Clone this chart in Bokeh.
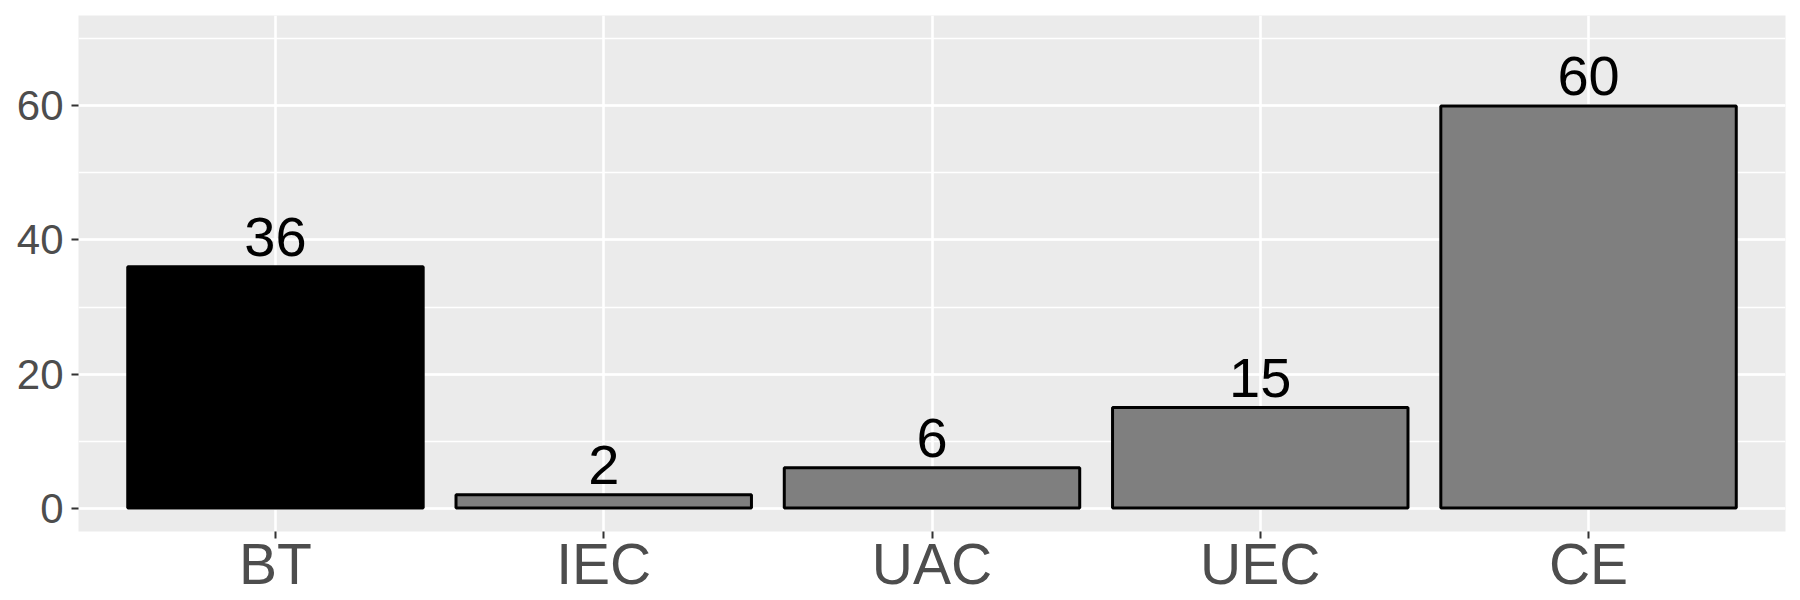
from bokeh.plotting import figure
from bokeh.models import ColumnDataSource, Range1d, FactorRange, SingleIntervalTicker
from bokeh.core.properties import value
from bokeh.embed import file_html
from bokeh.resources import INLINE

categories = ["BT", "IEC", "UAC", "UEC", "CE"]
counts = [36, 2, 6, 15, 60]
fills = ["#000000", "#7F7F7F", "#7F7F7F", "#7F7F7F", "#7F7F7F"]
labels = [str(v) for v in counts]

FONT = "Liberation Sans"

src = ColumnDataSource(dict(cat=categories, count=counts, fill=fills, label=labels))

p = figure(
    x_range=FactorRange(factors=categories, range_padding=0.1, range_padding_units="absolute"),
    y_range=Range1d(-3.5, 73.5),
    width=1800, height=600,
    output_backend="svg", toolbar_location=None,
    min_border_left=78, min_border_right=15, min_border_top=15, min_border_bottom=69,
)
p.background_fill_color = "#EBEBEB"
p.border_fill_color = "white"
p.outline_line_color = None

p.vbar(x="cat", top="count", bottom=0, width=0.9, source=src,
       fill_color="fill", line_color="black", line_width=3)

p.text(x="cat", y="count", text="label", source=src,
       text_font=value(FONT), text_font_size="56px", text_color="black",
       text_align="center", text_baseline="alphabetic", y_offset=-30)

p.yaxis.ticker = SingleIntervalTicker(interval=20, num_minor_ticks=2)
p.ygrid.grid_line_color = "white"
p.ygrid.grid_line_width = 2.6
p.ygrid.minor_grid_line_color = "white"
p.ygrid.minor_grid_line_width = 1.3
p.xgrid.grid_line_color = "white"
p.xgrid.grid_line_width = 2.6

for ax in (p.xaxis, p.yaxis):
    ax.axis_line_color = None
    ax.major_tick_line_color = "#333333"
    ax.major_tick_line_width = 2
    ax.major_tick_out = 7
    ax.major_tick_in = 0
    ax.minor_tick_line_color = None
    ax.major_label_text_color = "#4D4D4D"
    ax.major_label_text_font = FONT

p.yaxis.major_label_text_font_size = "42px"
p.yaxis.major_label_standoff = 8
p.xaxis.major_label_text_font_size = "57px"
p.xaxis.major_label_standoff = -7

open("out.html", "w").write(file_html(p, INLINE))
